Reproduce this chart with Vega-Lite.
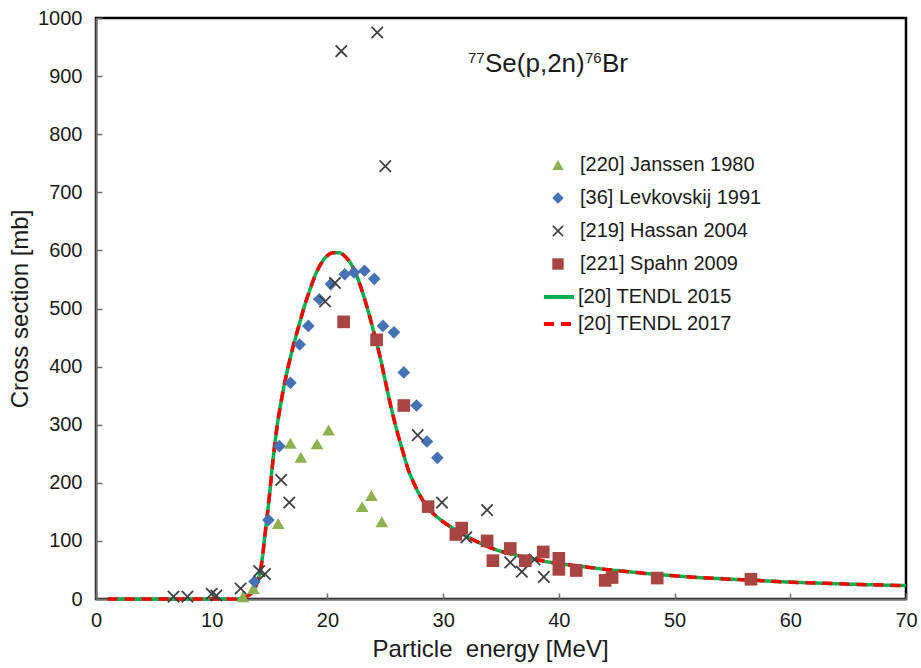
{
  "$schema": "https://vega.github.io/schema/vega-lite/v6.json",
  "width": 810,
  "height": 581,
  "autosize": {"type": "none"},
  "padding": {"left": 96, "top": 18, "right": 15, "bottom": 69},
  "background": "white",
  "config": {
    "font": "Liberation Sans",
    "view": {"stroke": "#000", "strokeWidth": 2.5},
    "legend": {"padding": 0, "labelFont": "Liberation Sans", "labelColor": "#1a1a1a", "labelLimit": 400}
  },
  "datasets": {
    "tendl": [
      {"E": 1, "TENDL 2015": 0, "TENDL 2017": 0},
      {"E": 5, "TENDL 2015": 0, "TENDL 2017": 0},
      {"E": 10, "TENDL 2015": 0, "TENDL 2017": 0},
      {"E": 12, "TENDL 2015": 0, "TENDL 2017": 0},
      {"E": 12.5, "TENDL 2015": 1, "TENDL 2017": 1},
      {"E": 13, "TENDL 2015": 4, "TENDL 2017": 4},
      {"E": 13.5, "TENDL 2015": 12, "TENDL 2017": 12},
      {"E": 14, "TENDL 2015": 33, "TENDL 2017": 33},
      {"E": 14.3, "TENDL 2015": 60, "TENDL 2017": 60},
      {"E": 14.6, "TENDL 2015": 110, "TENDL 2017": 110},
      {"E": 15, "TENDL 2015": 180, "TENDL 2017": 180},
      {"E": 15.3, "TENDL 2015": 240, "TENDL 2017": 240},
      {"E": 15.6, "TENDL 2015": 290, "TENDL 2017": 290},
      {"E": 16, "TENDL 2015": 340, "TENDL 2017": 340},
      {"E": 16.5, "TENDL 2015": 390, "TENDL 2017": 390},
      {"E": 17, "TENDL 2015": 432, "TENDL 2017": 432},
      {"E": 17.5, "TENDL 2015": 468, "TENDL 2017": 468},
      {"E": 18, "TENDL 2015": 503, "TENDL 2017": 503},
      {"E": 18.5, "TENDL 2015": 533, "TENDL 2017": 533},
      {"E": 19, "TENDL 2015": 560, "TENDL 2017": 560},
      {"E": 19.5, "TENDL 2015": 579, "TENDL 2017": 579},
      {"E": 20, "TENDL 2015": 591, "TENDL 2017": 591},
      {"E": 20.5, "TENDL 2015": 596, "TENDL 2017": 596},
      {"E": 21, "TENDL 2015": 596, "TENDL 2017": 596},
      {"E": 21.5, "TENDL 2015": 590, "TENDL 2017": 590},
      {"E": 22, "TENDL 2015": 578, "TENDL 2017": 578},
      {"E": 22.5, "TENDL 2015": 558, "TENDL 2017": 558},
      {"E": 23, "TENDL 2015": 530, "TENDL 2017": 530},
      {"E": 23.5, "TENDL 2015": 497, "TENDL 2017": 497},
      {"E": 24, "TENDL 2015": 460, "TENDL 2017": 460},
      {"E": 24.5, "TENDL 2015": 421, "TENDL 2017": 421},
      {"E": 25, "TENDL 2015": 375, "TENDL 2017": 375},
      {"E": 25.5, "TENDL 2015": 330, "TENDL 2017": 330},
      {"E": 26, "TENDL 2015": 290, "TENDL 2017": 290},
      {"E": 26.5, "TENDL 2015": 255, "TENDL 2017": 255},
      {"E": 27, "TENDL 2015": 222, "TENDL 2017": 222},
      {"E": 27.5, "TENDL 2015": 198, "TENDL 2017": 198},
      {"E": 28, "TENDL 2015": 178, "TENDL 2017": 178},
      {"E": 28.5, "TENDL 2015": 162, "TENDL 2017": 162},
      {"E": 29, "TENDL 2015": 150, "TENDL 2017": 150},
      {"E": 30, "TENDL 2015": 133, "TENDL 2017": 133},
      {"E": 31, "TENDL 2015": 120, "TENDL 2017": 120},
      {"E": 32, "TENDL 2015": 108, "TENDL 2017": 108},
      {"E": 33, "TENDL 2015": 98, "TENDL 2017": 98},
      {"E": 34, "TENDL 2015": 89, "TENDL 2017": 89},
      {"E": 35, "TENDL 2015": 82, "TENDL 2017": 82},
      {"E": 36, "TENDL 2015": 77, "TENDL 2017": 77},
      {"E": 37, "TENDL 2015": 72, "TENDL 2017": 72},
      {"E": 38, "TENDL 2015": 68, "TENDL 2017": 68},
      {"E": 39, "TENDL 2015": 64, "TENDL 2017": 64},
      {"E": 40, "TENDL 2015": 61, "TENDL 2017": 61},
      {"E": 42, "TENDL 2015": 56, "TENDL 2017": 56},
      {"E": 44, "TENDL 2015": 51, "TENDL 2017": 51},
      {"E": 46, "TENDL 2015": 47, "TENDL 2017": 47},
      {"E": 48, "TENDL 2015": 43, "TENDL 2017": 43},
      {"E": 50, "TENDL 2015": 40, "TENDL 2017": 40},
      {"E": 52, "TENDL 2015": 37, "TENDL 2017": 37},
      {"E": 55, "TENDL 2015": 34, "TENDL 2017": 34},
      {"E": 58, "TENDL 2015": 31, "TENDL 2017": 31},
      {"E": 60, "TENDL 2015": 29, "TENDL 2017": 29},
      {"E": 63, "TENDL 2015": 27, "TENDL 2017": 27},
      {"E": 66, "TENDL 2015": 25, "TENDL 2017": 25},
      {"E": 70, "TENDL 2015": 23, "TENDL 2017": 23}
    ],
    "exp": [
      {"E": 12.7, "sigma": 4, "series": "[220] Janssen 1980"},
      {"E": 13.6, "sigma": 18, "series": "[220] Janssen 1980"},
      {"E": 15.75, "sigma": 130, "series": "[220] Janssen 1980"},
      {"E": 16.8, "sigma": 268, "series": "[220] Janssen 1980"},
      {"E": 17.7, "sigma": 244, "series": "[220] Janssen 1980"},
      {"E": 19.1, "sigma": 267, "series": "[220] Janssen 1980"},
      {"E": 20.1, "sigma": 291, "series": "[220] Janssen 1980"},
      {"E": 23.0, "sigma": 159, "series": "[220] Janssen 1980"},
      {"E": 23.8, "sigma": 178, "series": "[220] Janssen 1980"},
      {"E": 24.7, "sigma": 133, "series": "[220] Janssen 1980"},
      {"E": 13.7, "sigma": 30, "series": "[36] Levkovskij 1991"},
      {"E": 14.9, "sigma": 136, "series": "[36] Levkovskij 1991"},
      {"E": 15.85, "sigma": 263, "series": "[36] Levkovskij 1991"},
      {"E": 16.8, "sigma": 372, "series": "[36] Levkovskij 1991"},
      {"E": 17.6, "sigma": 438, "series": "[36] Levkovskij 1991"},
      {"E": 18.35, "sigma": 470, "series": "[36] Levkovskij 1991"},
      {"E": 19.3, "sigma": 516, "series": "[36] Levkovskij 1991"},
      {"E": 20.3, "sigma": 542, "series": "[36] Levkovskij 1991"},
      {"E": 21.5, "sigma": 559, "series": "[36] Levkovskij 1991"},
      {"E": 22.3, "sigma": 562, "series": "[36] Levkovskij 1991"},
      {"E": 23.2, "sigma": 565, "series": "[36] Levkovskij 1991"},
      {"E": 24.05, "sigma": 551, "series": "[36] Levkovskij 1991"},
      {"E": 24.8, "sigma": 470, "series": "[36] Levkovskij 1991"},
      {"E": 25.75, "sigma": 459, "series": "[36] Levkovskij 1991"},
      {"E": 26.6, "sigma": 390, "series": "[36] Levkovskij 1991"},
      {"E": 27.7, "sigma": 333, "series": "[36] Levkovskij 1991"},
      {"E": 28.6, "sigma": 271, "series": "[36] Levkovskij 1991"},
      {"E": 29.5, "sigma": 243, "series": "[36] Levkovskij 1991"},
      {"E": 6.7, "sigma": 4, "series": "[219] Hassan 2004"},
      {"E": 7.9, "sigma": 4, "series": "[219] Hassan 2004"},
      {"E": 10.0, "sigma": 9, "series": "[219] Hassan 2004"},
      {"E": 10.4, "sigma": 6, "series": "[219] Hassan 2004"},
      {"E": 12.5, "sigma": 18, "series": "[219] Hassan 2004"},
      {"E": 14.1, "sigma": 48, "series": "[219] Hassan 2004"},
      {"E": 14.6, "sigma": 43, "series": "[219] Hassan 2004"},
      {"E": 16.0, "sigma": 205, "series": "[219] Hassan 2004"},
      {"E": 16.7, "sigma": 166, "series": "[219] Hassan 2004"},
      {"E": 19.8, "sigma": 512, "series": "[219] Hassan 2004"},
      {"E": 20.65, "sigma": 544, "series": "[219] Hassan 2004"},
      {"E": 21.2, "sigma": 943, "series": "[219] Hassan 2004"},
      {"E": 24.3, "sigma": 975, "series": "[219] Hassan 2004"},
      {"E": 25.0, "sigma": 745, "series": "[219] Hassan 2004"},
      {"E": 27.8, "sigma": 282, "series": "[219] Hassan 2004"},
      {"E": 29.9, "sigma": 166, "series": "[219] Hassan 2004"},
      {"E": 32.0, "sigma": 106, "series": "[219] Hassan 2004"},
      {"E": 33.8, "sigma": 153, "series": "[219] Hassan 2004"},
      {"E": 35.8, "sigma": 63, "series": "[219] Hassan 2004"},
      {"E": 36.8, "sigma": 47, "series": "[219] Hassan 2004"},
      {"E": 37.9, "sigma": 68, "series": "[219] Hassan 2004"},
      {"E": 38.7, "sigma": 38, "series": "[219] Hassan 2004"},
      {"E": 21.4, "sigma": 477, "series": "[221] Spahn 2009"},
      {"E": 24.25, "sigma": 446, "series": "[221] Spahn 2009"},
      {"E": 26.6, "sigma": 333, "series": "[221] Spahn 2009"},
      {"E": 28.7, "sigma": 159, "series": "[221] Spahn 2009"},
      {"E": 31.1, "sigma": 111, "series": "[221] Spahn 2009"},
      {"E": 31.6, "sigma": 122, "series": "[221] Spahn 2009"},
      {"E": 33.8, "sigma": 100, "series": "[221] Spahn 2009"},
      {"E": 34.3, "sigma": 66, "series": "[221] Spahn 2009"},
      {"E": 35.8, "sigma": 87, "series": "[221] Spahn 2009"},
      {"E": 37.1, "sigma": 66, "series": "[221] Spahn 2009"},
      {"E": 38.65, "sigma": 81, "series": "[221] Spahn 2009"},
      {"E": 40.0, "sigma": 70, "series": "[221] Spahn 2009"},
      {"E": 40.0, "sigma": 51, "series": "[221] Spahn 2009"},
      {"E": 41.5, "sigma": 49, "series": "[221] Spahn 2009"},
      {"E": 44.0, "sigma": 32, "series": "[221] Spahn 2009"},
      {"E": 44.6, "sigma": 37, "series": "[221] Spahn 2009"},
      {"E": 48.5, "sigma": 36, "series": "[221] Spahn 2009"},
      {"E": 56.6, "sigma": 34, "series": "[221] Spahn 2009"}
    ]
  },
  "layer": [
    {
      "data": {"name": "tendl"},
      "transform": [{"fold": ["TENDL 2015", "TENDL 2017"], "as": ["model", "sigma"]}],
      "mark": {"type": "line", "strokeWidth": 3.5, "interpolate": "monotone", "strokeCap": "butt"},
      "encoding": {
        "x": {
          "field": "E", "type": "quantitative",
          "scale": {"domain": [0, 70], "nice": false},
          "axis": {
            "values": [0, 10, 20, 30, 40, 50, 60, 70],
            "title": "Particle\u00a0 energy [MeV]",
            "titleX": 394, "titleAlign": "center",
            "grid": false, "tickSize": -6, "labelPadding": 17, "labelFlush": false,
            "labelFontSize": 20, "titleFontSize": 24, "titleFontWeight": "normal",
            "labelColor": "#1a1a1a", "titleColor": "#1a1a1a",
            "domainColor": "#6e6e6e", "domainWidth": 2, "tickColor": "#6e6e6e", "tickWidth": 1.5,
            "titlePadding": 7
          }
        },
        "y": {
          "field": "sigma", "type": "quantitative",
          "scale": {"domain": [0, 1000], "nice": false},
          "axis": {
            "values": [0, 100, 200, 300, 400, 500, 600, 700, 800, 900, 1000],
            "format": "d",
            "title": "Cross section [mb]",
            "grid": false, "tickSize": -6, "labelPadding": 20,
            "labelFontSize": 20, "titleFontSize": 24, "titleFontWeight": "normal",
            "labelColor": "#1a1a1a", "titleColor": "#1a1a1a",
            "domainColor": "#6e6e6e", "domainWidth": 2, "tickColor": "#6e6e6e", "tickWidth": 1.5,
            "titlePadding": 5
          }
        },
        "color": {
          "field": "model", "type": "nominal",
          "scale": {"domain": ["TENDL 2015", "TENDL 2017"], "range": ["#00B050", "#FF0000"]},
          "legend": {"title": null, "orient": "none", "legendX": 446, "legendY": 262, "labelFontSize": 20, "labelOffset": 2, "rowPadding": 0, "symbolSize": 900, "symbolStrokeWidth": 4, "symbolType": "stroke", "labelLimit": 400, "labelExpr": "'[20] ' + datum.label"}
        },
        "strokeDash": {
          "field": "model", "type": "nominal",
          "scale": {"domain": ["TENDL 2015", "TENDL 2017"], "range": [[1, 0], [10, 7]]},
          "legend": {"title": null, "orient": "none", "legendX": 446, "legendY": 262, "labelFontSize": 20, "labelOffset": 2, "rowPadding": 0, "symbolSize": 900, "symbolStrokeWidth": 4, "symbolType": "stroke", "labelLimit": 400, "labelExpr": "'[20] ' + datum.label"}
        }
      }
    },
    {
      "data": {"name": "exp"},
      "mark": {"type": "point", "filled": true, "size": 160, "opacity": 1},
      "encoding": {
        "x": {"field": "E", "type": "quantitative"},
        "y": {"field": "sigma", "type": "quantitative"},
        "color": {
          "field": "series", "type": "nominal",
          "scale": {"domain": ["[220] Janssen 1980", "[36] Levkovskij 1991", "[219] Hassan 2004", "[221] Spahn 2009"], "range": ["#8FB04F", "#4472B4", "#404040", "#A84442"]},
          "legend": {"title": null, "orient": "none", "legendX": 452, "legendY": 137, "labelFontSize": 20, "labelOffset": 12, "rowPadding": 13, "symbolSize": 130, "labelLimit": 400}
        },
        "shape": {
          "field": "series", "type": "nominal",
          "scale": {"domain": ["[220] Janssen 1980", "[36] Levkovskij 1991", "[219] Hassan 2004", "[221] Spahn 2009"], "range": ["triangle-up", "diamond", "M-1,-0.8L-0.8,-1L0,-0.2L0.8,-1L1,-0.8L0.2,0L1,0.8L0.8,1L0,0.2L-0.8,1L-1,0.8L-0.2,0Z", "square"]},
          "legend": {"title": null, "orient": "none", "legendX": 452, "legendY": 137, "labelFontSize": 20, "labelOffset": 12, "rowPadding": 13, "symbolSize": 130, "labelLimit": 400}
        }
      }
    },
    {
      "data": {"values": [{}]},
      "mark": {"type": "text", "fontSize": 15, "align": "left", "baseline": "alphabetic", "dy": -9, "color": "#1a1a1a"},
      "encoding": {
        "x": {"datum": 32.15, "type": "quantitative"},
        "y": {"datum": 907, "type": "quantitative"},
        "text": {"value": "77"}
      }
    },
    {
      "data": {"values": [{}]},
      "mark": {"type": "text", "fontSize": 26, "align": "left", "baseline": "alphabetic", "dx": 17, "color": "#1a1a1a"},
      "encoding": {
        "x": {"datum": 32.15, "type": "quantitative"},
        "y": {"datum": 907, "type": "quantitative"},
        "text": {"value": "Se(p,2n)"}
      }
    },
    {
      "data": {"values": [{}]},
      "mark": {"type": "text", "fontSize": 15, "align": "left", "baseline": "alphabetic", "dx": 117, "dy": -9, "color": "#1a1a1a"},
      "encoding": {
        "x": {"datum": 32.15, "type": "quantitative"},
        "y": {"datum": 907, "type": "quantitative"},
        "text": {"value": "76"}
      }
    },
    {
      "data": {"values": [{}]},
      "mark": {"type": "text", "fontSize": 26, "align": "left", "baseline": "alphabetic", "dx": 134, "color": "#1a1a1a"},
      "encoding": {
        "x": {"datum": 32.15, "type": "quantitative"},
        "y": {"datum": 907, "type": "quantitative"},
        "text": {"value": "Br"}
      }
    }
  ],
  "resolve": {
    "scale": {"color": "independent", "shape": "independent", "strokeDash": "independent"},
    "legend": {"color": "independent", "shape": "independent", "strokeDash": "independent"}
  }
}
